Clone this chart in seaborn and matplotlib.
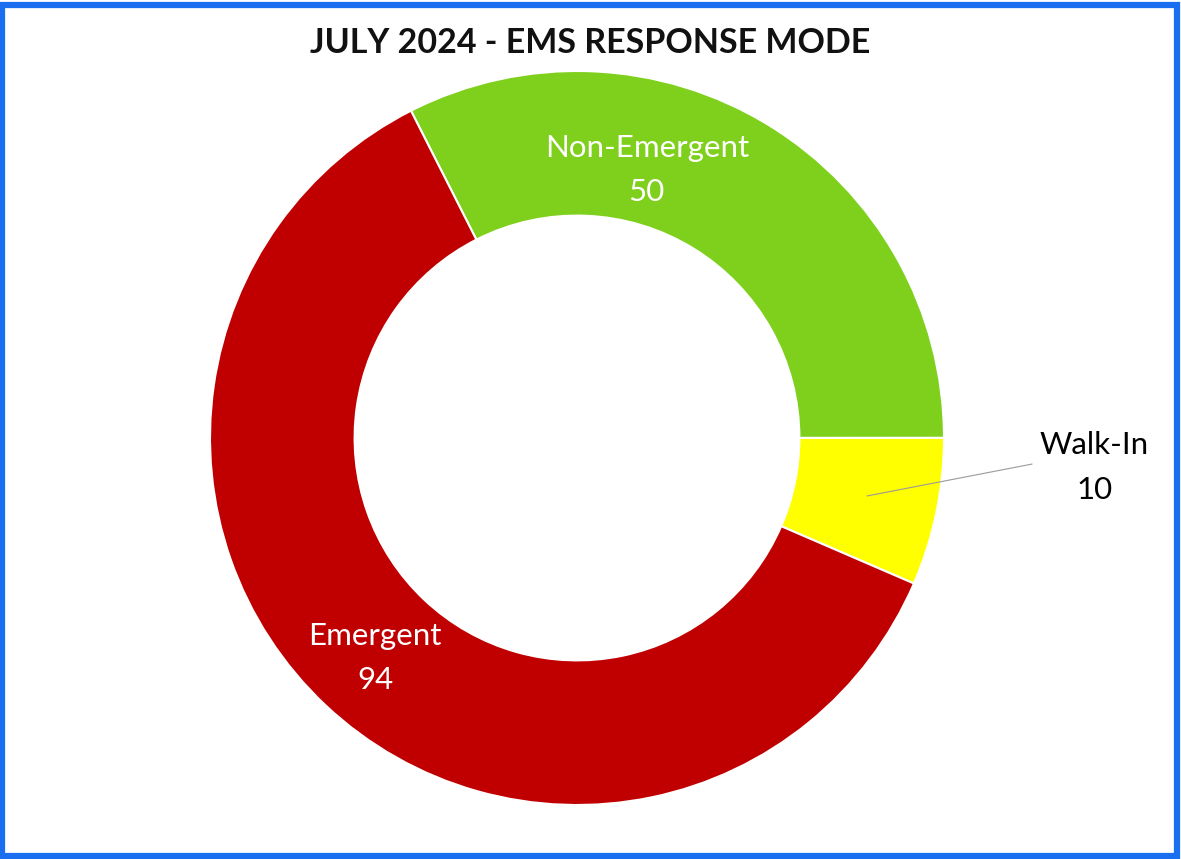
import matplotlib
matplotlib.use("Agg")
import matplotlib.pyplot as plt
from matplotlib.patches import Rectangle
import seaborn as sns

# Response mode counts, listed clockwise from the top of the ring
categories = ["Non-Emergent", "Walk-In", "Emergent"]
counts = [50, 10, 94]
slice_colors = ["#7ED01C", "#FFFF00", "#C00000"]
title = "JULY 2024 - EMS RESPONSE MODE"

sns.set_theme(style="white")
plt.rcParams["font.family"] = ["Lato", "DejaVu Sans"]
palette = sns.color_palette(slice_colors)

W, H = 1181, 859
fig = plt.figure(figsize=(W / 100, H / 100), dpi=100)
fig.patch.set_facecolor("white")

# Square axes centred on the ring
cx, cy, r = 577, 438, 367
ax = fig.add_axes([(cx - r) / W, (H - cy - r) / H, 2 * r / W, 2 * r / H])
ax.axis("off")

wedges, _ = ax.pie(
    counts,
    colors=palette,
    startangle=116.9,
    counterclock=False,
    radius=1.0,
    wedgeprops=dict(width=0.394, edgecolor="white", linewidth=1.5),
)
ax.set_xlim(-1, 1)
ax.set_ylim(-1, 1)

# Data labels: category name over value
label_pos = {
    "Non-Emergent": (0.19, 0.73, "white"),
    "Emergent": (-0.55, -0.60, "white"),
    "Walk-In": (1.41, -0.08, "black"),
}
for name, val in zip(categories, counts):
    x, y, col = label_pos[name]
    ax.text(x, y, f"{name}\n{val}", ha="center", va="center", color=col,
            fontsize=22.5, linespacing=1.72, clip_on=False)

# Leader line for the small slice
ax.plot([0.79, 1.24], [-0.158, -0.071], color="#9a9a9a", lw=0.8,
        clip_on=False)

fig.text(0.5, 1 - 43 / H, title, ha="center", va="center",
         fontsize=24.5, fontweight="bold", color="#111111")

# Blue frame around the chart area
fig.patches.append(Rectangle((0.002, 0.004), 0.995, 0.99,
                             transform=fig.transFigure, fill=False,
                             edgecolor="#1A6EF0", linewidth=4.5))

fig.savefig("out.png", dpi=100)
